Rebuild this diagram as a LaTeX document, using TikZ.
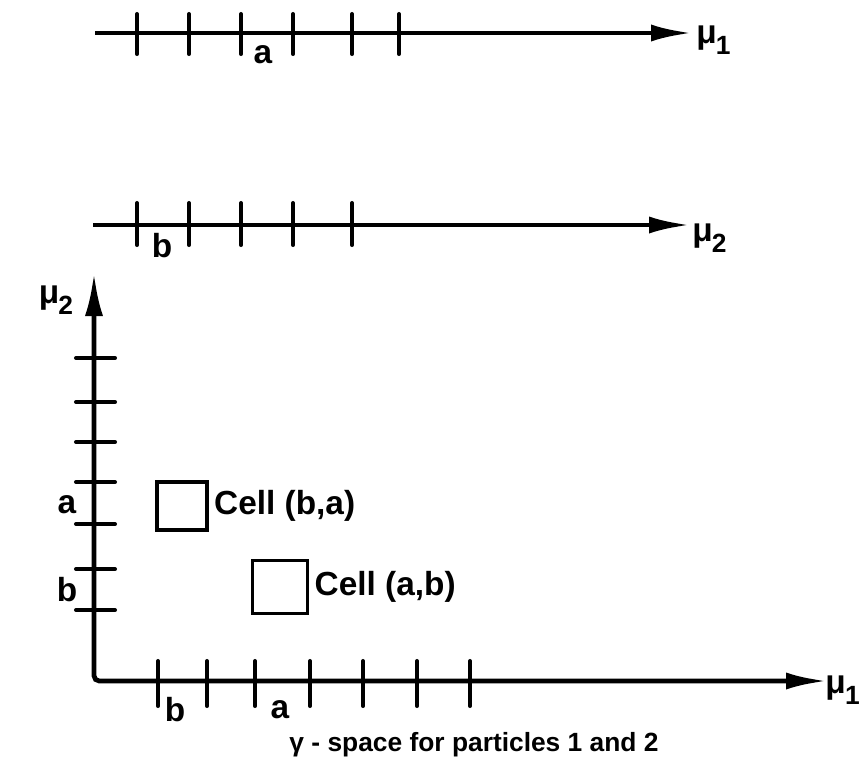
\documentclass[tikz,border=0pt]{standalone}
\usepackage{fontspec}
\setmainfont{Liberation Sans}
\usetikzlibrary{arrows.meta,positioning}

\newcommand{\bigfont}{\fontsize{19}{22}\selectfont\bfseries}
\newcommand{\capfont}{\fontsize{15}{18}\selectfont\bfseries}
\newcommand{\musub}[1]{μ\kern-0.5pt\raisebox{-0.6ex}{\fontsize{15}{18}\selectfont #1}}

\begin{document}
\begin{tikzpicture}[x=0.02cm,y=-0.02cm,
  axis/.style={line width=2.7pt,-{Latex[length=0.82cm,width=0.34cm]}},
  tick/.style={line width=2.3pt,line cap=round},
  cell/.style={draw,line width=1.8pt,inner sep=0pt},
  lbl/.style={inner sep=0pt,font=\bigfont},
  every node/.style={font=\bigfont}]
 \useasboundingbox (0,0) rectangle (861,778);
 % single-particle axes
 \coordinate (s1) at (95,33);
 \coordinate (e1) at (692,33);
 \coordinate (s2) at (93,225);
 \coordinate (e2) at (690,225);
 \draw[axis] (s1) -- (e1);
 \draw[axis] (s2) -- (e2);
 \foreach \x in {137,189,241,293,352,399}
   \draw[tick] (\x,14) -- (\x,54);
 \foreach \x in {137,189,241,293,352}
   \draw[tick] (\x,203) -- (\x,245);
 \node[lbl,anchor=west] (mua) at (696,40) {\musub{1}};
 \node[lbl,anchor=west] (mub) at (692,238) {\musub{2}};
 \node[lbl] (a1) at (263,55) {a};
 \node[lbl] (b2) at (162,246) {b};
 % gamma-space
 \coordinate (o) at (94,681);
 \coordinate (ytop) at (94,273);
 \coordinate (xend) at (827,681);
 \draw[axis,{Latex[length=0.86cm,width=0.36cm]}-{Latex[length=0.82cm,width=0.34cm]},
   rounded corners=3pt] (ytop) -- (o) -- (xend);
 \foreach \y in {358,402,442,482,524,569,610}
   \draw[tick] (76,\y) -- (115,\y);
 \foreach \x in {158,207,255,310,363,417,470}
   \draw[tick] (\x,661) -- (\x,706);
 \node[lbl] (muy) at (56,300) {\musub{2}};
 \node[lbl,anchor=east] (mux) at (860,690) {\musub{1}};
 \node[lbl] (ya) at (67,505) {a};
 \node[lbl] (yb) at (67,590) {b};
 \node[lbl] (xb) at (175,710) {b};
 \node[lbl] (xa) at (280,710) {a};
 % cells
 \node[cell,minimum width=1cm,minimum height=0.96cm] (cba) at (182,506) {};
 \node[cell,minimum width=1.1cm,minimum height=1.06cm] (cab) at (280,587) {};
 \node[lbl,right=3pt of cba] {Cell (b,a)};
 \node[lbl,right=3pt of cab] {Cell (a,b)};
 \node[inner sep=0pt,font=\capfont] (cap) at (474,745) {γ - space for particles 1 and 2};
\end{tikzpicture}
\end{document}
